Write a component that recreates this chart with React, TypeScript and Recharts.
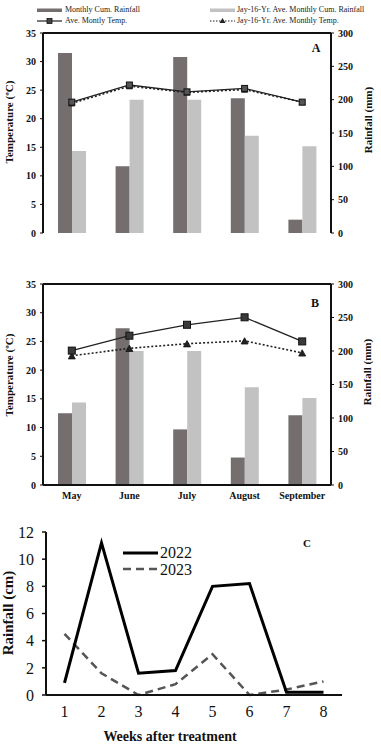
import React from "react";
import {
  ComposedChart,
  LineChart,
  Bar,
  Line,
  XAxis,
  YAxis,
  ReferenceLine,
} from "recharts";

const months = ["May", "June", "July", "August", "September"];
const rainA = [270, 100, 264, 202, 20];
const rainB = [107, 234, 83, 41, 104];
const rainLongTerm = [123, 200, 200, 146, 130];
const tempA = [22.9, 25.9, 24.7, 25.3, 22.9];
const tempLongA = [22.7, 25.7, 24.6, 25.1, 22.9];
const tempB = [23.4, 26.0, 27.9, 29.2, 25.0];
const tempLongB = [22.5, 23.8, 24.6, 25.1, 23.0];

const weeks = [1, 2, 3, 4, 5, 6, 7, 8];
const weekly2022 = [0.9, 11.2, 1.6, 1.8, 8.0, 8.2, 0.2, 0.2];
const weekly2023 = [4.5, 1.6, 0.0, 0.8, 3.0, 0.0, 0.4, 1.0];

const tempTicks = [0, 5, 10, 15, 20, 25, 30, 35];
const rainTicks = [0, 50, 100, 150, 200, 250, 300];
const cmTicks = [0, 2, 4, 6, 8, 10, 12];
const weekEdges = [0.5, 1.5, 2.5, 3.5, 4.5, 5.5, 6.5, 7.5, 8.5];

const SERIF = "'Liberation Serif', 'Times New Roman', serif";
const DARK = "#756e6e";
const LIGHT = "#c2c2c2";

const dataA = months.map((m, i) => ({
  month: m,
  rain: rainA[i],
  rainLong: rainLongTerm[i],
  temp: tempA[i],
  tempLong: tempLongA[i],
}));
const dataB = months.map((m, i) => ({
  month: m,
  rain: rainB[i],
  rainLong: rainLongTerm[i],
  temp: tempB[i],
  tempLong: tempLongB[i],
}));
const dataC = weeks.map((w, i) => ({ week: w, y2022: weekly2022[i], y2023: weekly2023[i] }));

const tickStyle = { fontFamily: SERIF, fontSize: 10, fontWeight: 700, fill: "#111" };

const squareDot = (size: number, fill: string) => (props: any) => (
  <rect
    key={`sq-${props.index}`}
    x={props.cx - size / 2}
    y={props.cy - size / 2}
    width={size}
    height={size}
    fill={fill}
    stroke="#111"
    strokeWidth={1}
  />
);

const triDot = (size: number) => (props: any) => {
  const { cx, cy } = props;
  const h = size * 0.9;
  return (
    <polygon
      key={`tri-${props.index}`}
      points={`${cx},${cy - h / 2} ${cx - size / 2},${cy + h / 2} ${cx + size / 2},${cy + h / 2}`}
      fill="#222"
      stroke="#111"
      strokeWidth={0.8}
    />
  );
};

function Rotated({ x, y, text, size }: { x: number; y: number; text: string; size: number }) {
  return (
    <div
      style={{
        position: "absolute",
        left: x,
        top: y,
        transform: "translate(-50%, -50%) rotate(-90deg)",
        whiteSpace: "nowrap",
        fontFamily: SERIF,
        fontWeight: 700,
        fontSize: size,
        color: "#111",
        lineHeight: 1,
      }}
    >
      {text}
    </div>
  );
}

function Tag({ x, y, text, size, bold = true }: { x: number; y: number; text: string; size: number; bold?: boolean }) {
  return (
    <div
      style={{
        position: "absolute",
        left: x,
        top: y,
        transform: "translate(-50%, -50%)",
        whiteSpace: "nowrap",
        fontFamily: SERIF,
        fontWeight: bold ? 700 : 400,
        fontSize: size,
        color: "#111",
        lineHeight: 1,
      }}
    >
      {text}
    </div>
  );
}

function MonthPanel({ data, showMonths, height, top, bottom, dotSize, dotFill }: any) {
  return (
    <ComposedChart
      width={381}
      height={height}
      data={data}
      margin={{ top, right: 0, bottom, left: 0 }}
      barGap={0}
      barSize={14}
    >
      <XAxis
        dataKey="month"
        height={showMonths ? 25 : 0}
        tick={showMonths ? tickStyle : false}
        tickLine={false}
        tickSize={0}
        tickMargin={7}
        axisLine={{ stroke: "#111", strokeWidth: 2 }}
        interval={0}
      />
      <YAxis
        yAxisId="left"
        width={43}
        domain={[0, 35]}
        ticks={tempTicks}
        tick={tickStyle}
        tickSize={3}
        tickMargin={4}
        tickLine={{ stroke: "#111" }}
        axisLine={{ stroke: "#111", strokeWidth: 2 }}
        interval={0}
      />
      <YAxis
        yAxisId="right"
        orientation="right"
        width={50}
        domain={[0, 300]}
        ticks={rainTicks}
        tick={tickStyle}
        tickSize={3}
        tickMargin={4}
        tickLine={{ stroke: "#111" }}
        axisLine={{ stroke: "#111", strokeWidth: 2 }}
        interval={0}
      />
      <ReferenceLine yAxisId="left" y={35} stroke="#111" strokeWidth={2} />
      <Bar yAxisId="right" dataKey="rain" fill={DARK} isAnimationActive={false} />
      <Bar yAxisId="right" dataKey="rainLong" fill={LIGHT} isAnimationActive={false} />
      <Line
        yAxisId="left"
        dataKey="tempLong"
        stroke="#222"
        strokeWidth={1.6}
        strokeDasharray="2 2"
        dot={triDot(dotSize)}
        isAnimationActive={false}
      />
      <Line
        yAxisId="left"
        dataKey="temp"
        stroke="#222"
        strokeWidth={1.3}
        dot={squareDot(dotSize, dotFill)}
        isAnimationActive={false}
      />
    </ComposedChart>
  );
}

function TopLegend() {
  const txt: React.CSSProperties = {
    position: "absolute",
    fontFamily: SERIF,
    fontSize: 8,
    color: "#222",
    whiteSpace: "nowrap",
    lineHeight: 1,
  };
  return (
    <>
      <svg style={{ position: "absolute", left: 0, top: 0 }} width={381} height={30}>
        <rect x={37} y={8.5} width={25} height={3.5} fill={DARK} />
        <rect x={210} y={8.5} width={25} height={3.5} fill={LIGHT} />
        <line x1={37} y1={21} x2={62} y2={21} stroke="#222" strokeWidth={1.2} />
        <rect x={47} y={18.5} width={5} height={5} fill="#444" stroke="#111" strokeWidth={0.8} />
        <line x1={210} y1={21} x2={235} y2={21} stroke="#222" strokeWidth={1.2} strokeDasharray="1.5 1.5" />
        <polygon points="222.5,18 219.5,23 225.5,23" fill="#222" />
      </svg>
      <div style={{ ...txt, left: 65, top: 6 }}>Monthly Cum. Rainfall</div>
      <div style={{ ...txt, left: 237, top: 6 }}>Jay-16-Yr. Ave. Monthly Cum. Rainfall</div>
      <div style={{ ...txt, left: 65, top: 17 }}>Ave. Montly Temp.</div>
      <div style={{ ...txt, left: 237, top: 17 }}>Jay-16-Yr. Ave. Monthly Temp.</div>
    </>
  );
}

export default function App() {
  const legendText: React.CSSProperties = {
    position: "absolute",
    left: 160,
    fontFamily: SERIF,
    fontSize: 16,
    lineHeight: "15px",
    color: "#111",
  };
  return (
    <div
      style={{
        position: "absolute",
        left: 0,
        top: 0,
        width: 381,
        height: 754,
        background: "#fff",
        overflow: "hidden",
      }}
    >
      <div style={{ position: "absolute", left: 0, top: 0 }}>
        <MonthPanel data={dataA} showMonths={false} height={240} top={33} bottom={7} dotSize={6} dotFill="#555" />
      </div>
      <TopLegend />
      <Tag x={316} y={48} text="A" size={12} />
      <Rotated x={9} y={122} text="Temperature (ºC)" size={11} />
      <Rotated x={368} y={120} text="Rainfall (mm)" size={11} />

      <div style={{ position: "absolute", left: 0, top: 250 }}>
        <MonthPanel data={dataB} showMonths={true} height={265} top={34} bottom={5} dotSize={7} dotFill="#3a3a3a" />
      </div>
      <Tag x={315} y={303} text="B" size={12} />
      <Rotated x={9} y={375} text="Temperature (ºC)" size={11} />
      <Rotated x={367} y={372} text="Rainfall (mm)" size={11} />

      <div style={{ position: "absolute", left: 0, top: 515 }}>
        <LineChart width={381} height={239} data={dataC} margin={{ top: 17, right: 39, bottom: 19, left: 0 }}>
          <XAxis
            xAxisId="edges"
            type="number"
            dataKey="week"
            domain={[0.5, 8.5]}
            ticks={weekEdges}
            interval={0}
            height={0}
            tick={() => <g />}
            tickSize={5}
            tickLine={{ stroke: "#111", strokeWidth: 1.5 }}
            axisLine={{ stroke: "#111", strokeWidth: 2 }}
          />
          <XAxis
            xAxisId="labels"
            type="number"
            dataKey="week"
            domain={[0.5, 8.5]}
            ticks={weeks}
            interval={0}
            height={40}
            tickLine={false}
            tickSize={0}
            tickMargin={11}
            tick={{ fontFamily: SERIF, fontSize: 16, fill: "#111" }}
            axisLine={{ stroke: "#111", strokeWidth: 2 }}
          />
          <YAxis
            width={46}
            domain={[0, 12]}
            ticks={cmTicks}
            interval={0}
            tickSize={4}
            tickMargin={8}
            tick={{ fontFamily: SERIF, fontSize: 16, fill: "#111" }}
            tickLine={{ stroke: "#111", strokeWidth: 1.5 }}
            axisLine={{ stroke: "#111", strokeWidth: 2 }}
          />
          <Line
            xAxisId="labels"
            dataKey="y2023"
            stroke="#555"
            strokeWidth={2.5}
            strokeDasharray="8 5"
            dot={false}
            isAnimationActive={false}
          />
          <Line
            xAxisId="labels"
            dataKey="y2022"
            stroke="#000"
            strokeWidth={3}
            dot={false}
            isAnimationActive={false}
          />
        </LineChart>
      </div>
      <svg style={{ position: "absolute", left: 0, top: 540 }} width={200} height={40}>
        <line x1={123} y1={13} x2={158} y2={13} stroke="#000" strokeWidth={3} />
        <line x1={123} y1={29} x2={158} y2={29} stroke="#555" strokeWidth={2.5} strokeDasharray="8 5" />
      </svg>
      <div style={{ ...legendText, top: 545 }}>2022</div>
      <div style={{ ...legendText, top: 562 }}>2023</div>
      <Tag x={307} y={543} text="C" size={11} />
      <Rotated x={8} y={613} text="Rainfall (cm)" size={15} />
      <Tag x={170} y={737} text="Weeks after treatment" size={14} />
    </div>
  );
}
